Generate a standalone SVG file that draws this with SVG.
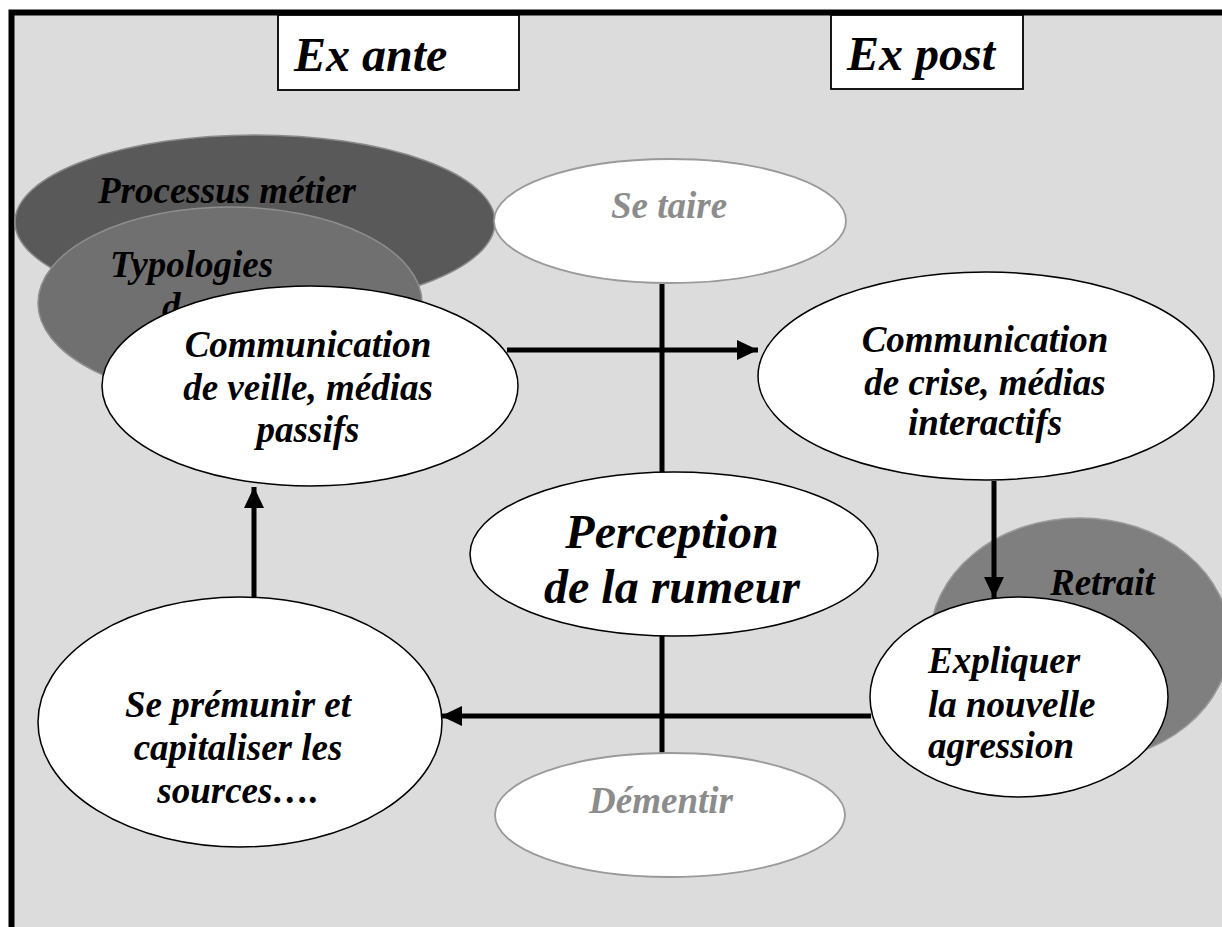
<svg xmlns="http://www.w3.org/2000/svg" width="1222" height="927" viewBox="0 0 1222 927">
<style>
.t{font-family:"Liberation Serif","Times New Roman",serif;font-weight:bold;font-style:italic;fill:#000}
.f37{font-size:37px}
.f48{font-size:48px}
.g{fill:#8c8c8c}
.mid{text-anchor:middle}
.wn{fill:#fff;stroke:#000;stroke-width:1.5}
.gn{fill:#fff;stroke:#9a9a9a;stroke-width:1.8}
.cn{stroke:#000;stroke-width:5;fill:none}
</style>
<defs>
<marker id="ah" markerUnits="userSpaceOnUse" markerWidth="22" markerHeight="22" refX="21" refY="10" orient="auto">
<path d="M0,0 L21,10 L0,20 z" fill="#000"/>
</marker>
<clipPath id="clipS"><rect x="0" y="560" width="500" height="244"/></clipPath>
</defs>
<rect x="0" y="0" width="1222" height="927" fill="#fff"/>
<rect id="frame" x="11.5" y="12.5" width="1230" height="940" fill="#dcdcdc" stroke="#000" stroke-width="6"/>
<g id="exante">
<rect x="278" y="15" width="241" height="75" fill="#fff" stroke="#000" stroke-width="1.8"/>
<text class="t f48" x="294" y="71">Ex ante</text>
</g>
<g id="expost">
<rect x="831" y="15" width="192" height="74" fill="#fff" stroke="#000" stroke-width="1.8"/>
<text class="t f48" x="847" y="70">Ex post</text>
</g>
<g id="processus">
<ellipse cx="255" cy="222" rx="240" ry="87" fill="#595959" stroke="#8a8a8a" stroke-width="1.5"/>
<text class="t f37" x="98" y="203">Processus métier</text>
</g>
<g id="typologies">
<ellipse cx="230" cy="303" rx="192" ry="96" fill="#707070" stroke="#8f8f8f" stroke-width="1.5"/>
<text class="t f37" x="110" y="277">Typologies</text>
<text class="t f37" x="162" y="319">d</text>
</g>
<g id="setaire">
<ellipse class="gn" cx="670" cy="221" rx="176" ry="62"/>
<text class="t f37 g mid" x="669" y="218">Se taire</text>
</g>
<g id="retrait">
<ellipse cx="1080" cy="640" rx="150" ry="122" fill="#7f7f7f" stroke="#9a9a9a" stroke-width="1.5"/>
<text class="t f37" x="1050" y="595">Retrait</text>
</g>
<g id="connectors">
<line class="cn" x1="507" y1="350" x2="758" y2="350" marker-end="url(#ah)"/>
<line class="cn" x1="662" y1="284" x2="662" y2="472"/>
<line class="cn" x1="662" y1="636" x2="662" y2="753"/>
<line class="cn" x1="994" y1="481" x2="994" y2="598" marker-end="url(#ah)"/>
<line class="cn" x1="871" y1="716" x2="441" y2="716" marker-end="url(#ah)"/>
<line class="cn" x1="254" y1="597" x2="254" y2="487" marker-end="url(#ah)"/>
</g>
<g id="veille">
<ellipse class="wn" cx="310" cy="386" rx="208" ry="100"/>
<text class="t f37 mid" x="308" y="357">Communication</text>
<text class="t f37 mid" x="308" y="400">de veille, médias</text>
<text class="t f37 mid" x="308" y="442">passifs</text>
</g>
<g id="crise">
<ellipse class="wn" cx="986" cy="376" rx="228" ry="104"/>
<text class="t f37 mid" x="985" y="352">Communication</text>
<text class="t f37 mid" x="985" y="395">de crise, médias</text>
<text class="t f37 mid" x="985" y="435">interactifs</text>
</g>
<g id="perception">
<ellipse class="wn" cx="674" cy="554" rx="204" ry="82"/>
<text class="t f48 mid" x="672" y="548">Perception</text>
<text class="t f48 mid" x="672" y="603">de la rumeur</text>
</g>
<g id="expliquer">
<ellipse class="wn" cx="1019" cy="697" rx="149" ry="100"/>
<text class="t f37" x="928" y="673">Expliquer</text>
<text class="t f37" x="928" y="717">la nouvelle</text>
<text class="t f37" x="928" y="758">agression</text>
</g>
<g id="dementir">
<ellipse class="gn" cx="670" cy="815" rx="175" ry="62"/>
<text class="t f37 g mid" x="661" y="813">Démentir</text>
</g>
<g id="premunir">
<ellipse class="wn" cx="240" cy="722" rx="202" ry="125"/>
<g clip-path="url(#clipS)">
<text class="t f37 mid" x="238" y="717">Se prémunir et</text>
<text class="t f37 mid" x="238" y="760">capitaliser les</text>
<text class="t f37 mid" x="238" y="803">sources….</text>
</g>
</g>
</svg>
